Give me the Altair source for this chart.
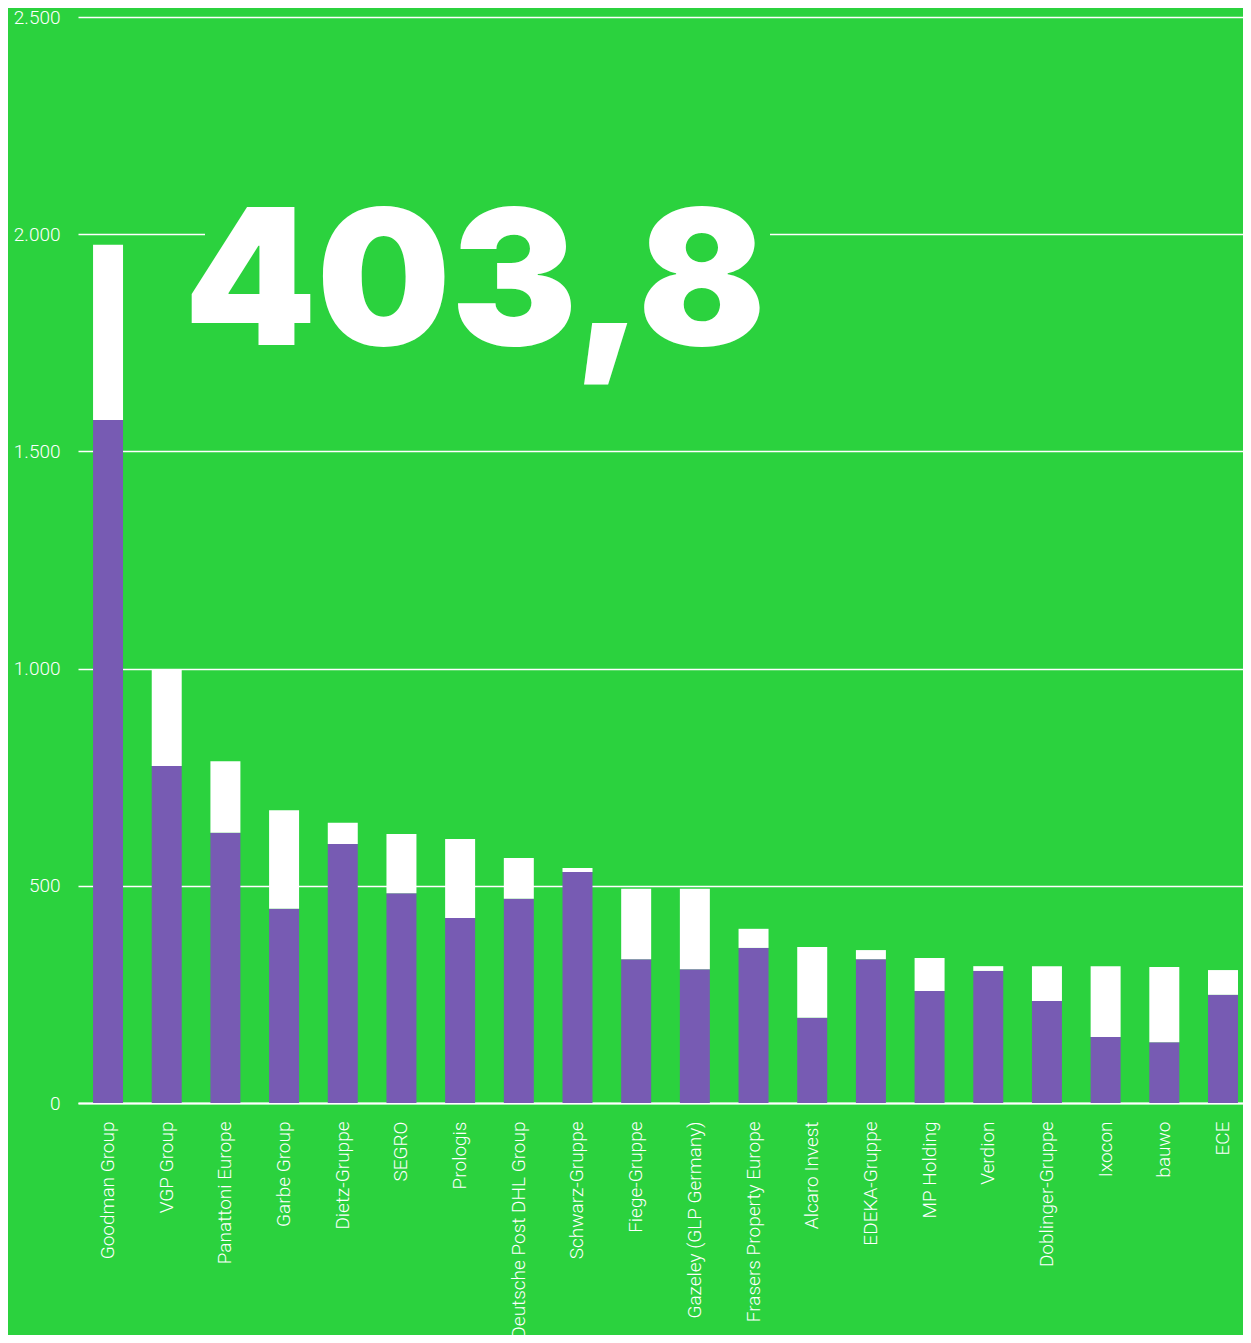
import altair as alt
import pandas as pd

companies = ["Goodman Group", "VGP Group", "Panattoni Europe", "Garbe Group", "Dietz-Gruppe",
             "SEGRO", "Prologis", "Deutsche Post DHL Group", "Schwarz-Gruppe", "Fiege-Gruppe",
             "Gazeley (GLP Germany)", "Frasers Property Europe", "Alcaro Invest", "EDEKA-Gruppe",
             "MP Holding", "Verdion", "Doblinger-Gruppe", "Ixocon", "bauwo", "ECE"]
purple_part = [1572, 776, 622, 447, 596, 483, 426, 470, 532, 331,
               308, 357, 196, 331, 258, 304, 235, 152, 140, 249]
white_part = [404, 221, 165, 227, 49, 136, 182, 94, 9, 162,
              185, 44, 163, 21, 76, 11, 80, 163, 173, 57]
series = ["a", "b"]
y_ticks = [0, 500, 1000, 1500, 2000, 2500]
big_number = "403,8"

GREEN = "#2BD23E"
PURPLE = "#775BB3"

rows = []
for c, p, w in zip(companies, purple_part, white_part):
    rows.append({"company": c, "series": series[0], "order": 0, "value": p})
    rows.append({"company": c, "series": series[1], "order": 1, "value": w})
df = pd.DataFrame(rows)

bars = alt.Chart(df).mark_bar().encode(
    x=alt.X("company:N", sort=companies,
            scale=alt.Scale(paddingInner=0.489, paddingOuter=0.171, align=0.75),
            axis=alt.Axis(title=None, labelAngle=-90, labelColor="white", labelFont="Roboto",
                          labelFontWeight=300, labelFontSize=19, labelPadding=18, ticks=False,
                          domain=True, domainColor="white", domainWidth=2, labelLimit=400)),
    y=alt.Y("value:Q", stack="zero",
            scale=alt.Scale(domain=[0, 2500], nice=False),
            axis=alt.Axis(title=None, values=y_ticks, labelColor="white", labelFont="Roboto",
                          labelFontWeight=300, labelFontSize=19, labelPadding=18, ticks=False,
                          domain=False, grid=True, gridColor="white", gridWidth=1.3,
                          labelExpr="replace(format(datum.value, ','), ',', '.')")),
    color=alt.Color("series:N", scale=alt.Scale(domain=series, range=[PURPLE, "white"]), legend=None),
    order=alt.Order("order:Q", sort="ascending"),
)

label_df = pd.DataFrame({"t": [big_number]})

cover = alt.Chart(label_df).mark_rect(color=GREEN).encode(
    x=alt.value(127), x2=alt.value(692), y=alt.value(180), y2=alt.value(350)
)

big_text = alt.Chart(label_df).mark_text(
    font="Inter", fontWeight=900, fontSize=189, color="white", align="center", baseline="alphabetic"
).encode(
    x=alt.value(397), y=alt.value(328), text="t:N"
)

chart = alt.layer(bars, cover, big_text).properties(
    width=1165, height=1086,
    autosize=alt.AutoSizeParams(type="none"),
    padding={"left": 70, "top": 9, "right": 0, "bottom": 232},
    background=GREEN,
).configure_view(stroke=None)

chart.save("out.html", embed_options={"renderer": "svg", "actions": False})
